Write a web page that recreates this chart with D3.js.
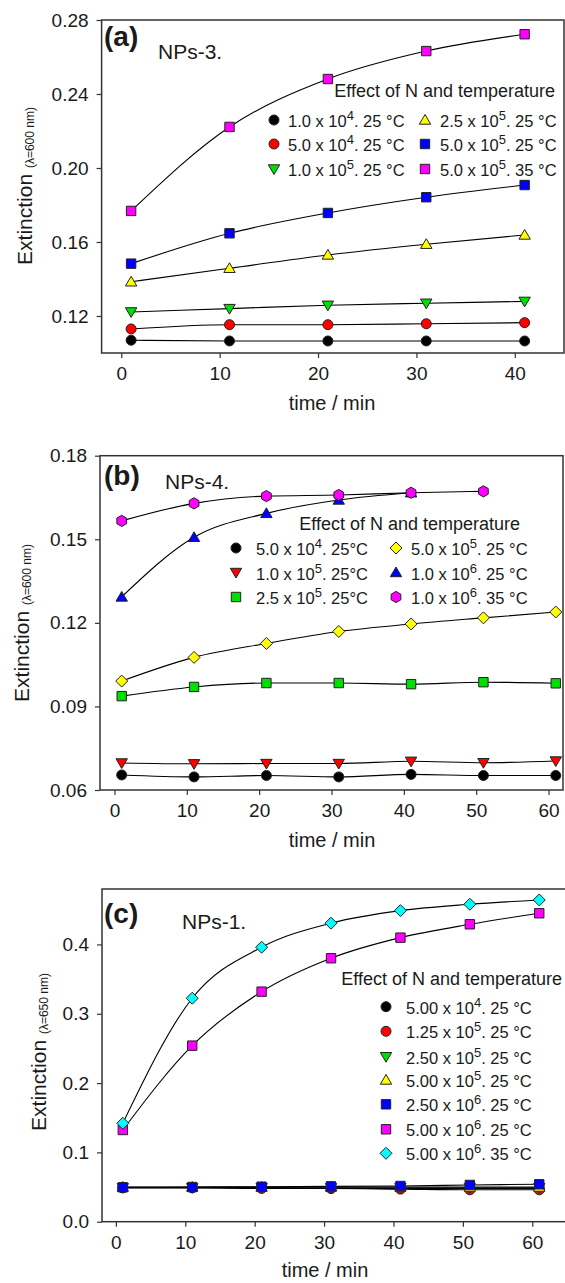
<!DOCTYPE html>
<html><head><meta charset="utf-8">
<script src="https://cdn.jsdelivr.net/npm/d3@7"></script>
<style>body{margin:0;background:#fff}svg{display:block}text{font-family:"Liberation Sans",Arial,sans-serif;fill:#1a1a1a}</style>
</head><body><svg id="c" width="565" height="1283"></svg>
<script>
// ---------- DATA ----------
const timeA = [1, 11, 21, 31, 41];
const aN1e4_25 = [0.1069, 0.1065, 0.1065, 0.1065, 0.1065];
const aN5e4_25 = [0.1130, 0.1153, 0.1153, 0.1158, 0.1164];
const aN1e5_25 = [0.1222, 0.1240, 0.1258, 0.1269, 0.1279];
const aN25e5_25 = [0.1385, 0.1458, 0.1530, 0.1588, 0.1638];
const aN5e5_25 = [0.1483, 0.1647, 0.1757, 0.1842, 0.1908];
const aN5e5_35 = [0.1768, 0.2222, 0.2481, 0.2632, 0.2723];
const xTicksA = [0, 10, 20, 30, 40];
const yTicksA = [0.12, 0.16, 0.20, 0.24, 0.28];

const timeB = [1, 11, 21, 31, 41, 51, 61];
const bN5e4_25 = [0.0654, 0.0647, 0.0652, 0.0647, 0.0656, 0.0652, 0.0652];
const bN1e5_25 = [0.0697, 0.0694, 0.0695, 0.0695, 0.0703, 0.0698, 0.0704];
const bN25e5_25 = [0.0937, 0.0970, 0.0984, 0.0984, 0.0980, 0.0987, 0.0983];
const bN5e5_25 = [0.0991, 0.1076, 0.1126, 0.1169, 0.1196, 0.1218, 0.1239];
const timeB6 = [1, 11, 21, 31, 41];
const bN1e6_25 = [0.1293, 0.1507, 0.1593, 0.1641, 0.1667];
const timeB7 = [1, 11, 21, 31, 41, 51];
const bN1e6_35 = [0.1566, 0.1629, 0.1655, 0.1659, 0.1667, 0.1672];
const xTicksB = [0, 10, 20, 30, 40, 50, 60];
const yTicksB = [0.06, 0.09, 0.12, 0.15, 0.18];

const timeC = [1, 11, 21, 31, 41, 51, 61];
const cN5e4_25 = [0.049, 0.049, 0.049, 0.048, 0.048, 0.048, 0.048];
const cN125e5_25 = [0.049, 0.049, 0.048, 0.048, 0.047, 0.046, 0.046];
const cN25e5_25 = [0.049, 0.049, 0.049, 0.049, 0.049, 0.049, 0.049];
const cN5e5_25 = [0.050, 0.050, 0.050, 0.050, 0.050, 0.050, 0.050];
const cN25e6_25 = [0.0496, 0.0500, 0.0505, 0.0510, 0.0515, 0.0530, 0.0540];
const cN5e6_25 = [0.1323, 0.2540, 0.3319, 0.3801, 0.4098, 0.4291, 0.4450];
const cN5e6_35 = [0.1420, 0.3224, 0.3960, 0.4307, 0.4488, 0.4580, 0.4642];
const xTicksC = [0, 10, 20, 30, 40, 50, 60];
const yTicksC = [0.0, 0.1, 0.2, 0.3, 0.4];

// legend labels: [mantissa, exponent, suffix]
const legendA = [["1.0 x 10","4",". 25 °C"],["5.0 x 10","4",". 25 °C"],["1.0 x 10","5",". 25 °C"],
                 ["2.5 x 10","5",". 25 °C"],["5.0 x 10","5",". 25 °C"],["5.0 x 10","5",". 35 °C"]];
const legendB = [["5.0 x 10","4",". 25°C"],["1.0 x 10","5",". 25°C"],["2.5 x 10","5",". 25°C"],
                 ["5.0 x 10","5",". 25 °C"],["1.0 x 10","6",". 25 °C"],["1.0 x 10","6",". 35 °C"]];
const legendC = [["5.00 x 10","4",". 25 °C"],["1.25 x 10","5",". 25 °C"],["2.50 x 10","5",". 25 °C"],
                 ["5.00 x 10","5",". 25 °C"],["2.50 x 10","6",". 25 °C"],["5.00 x 10","6",". 25 °C"],["5.00 x 10","6",". 35 °C"]];

// ---------- STYLE ----------
const COL = {black:"#000000", red:"#ff0000", green:"#00e000", yellow:"#ffff00", blue:"#0000ff", magenta:"#ff00ff", cyan:"#00ffff"};
const svg = d3.select("#c");
svg.append("rect").attr("width",565).attr("height",1283).attr("fill","#fff");

function markerPath(shape){
  const p = d3.path();
  if(shape==="circle"){ p.arc(0,0,5,0,2*Math.PI); }
  else if(shape==="square"){ p.rect(-4.7,-4.7,9.4,9.4); }
  else if(shape==="up"){ p.moveTo(0,-5.5); p.lineTo(5.7,4.2); p.lineTo(-5.7,4.2); p.closePath(); }
  else if(shape==="down"){ p.moveTo(0,5.5); p.lineTo(5.7,-4.2); p.lineTo(-5.7,-4.2); p.closePath(); }
  else if(shape==="diamond"){ p.moveTo(0,-6); p.lineTo(6,0); p.lineTo(0,6); p.lineTo(-6,0); p.closePath(); }
  else if(shape==="hex"){ for(let i=0;i<6;i++){const a=Math.PI/3*i-Math.PI/2; const x=5.6*Math.cos(a), y=5.6*Math.sin(a); if(i===0)p.moveTo(x,y); else p.lineTo(x,y);} p.closePath(); }
  return p.toString();
}

function panel(cfg){
  const g = svg.append("g");
  const x = d3.scaleLinear().domain(cfg.xDom).range([cfg.L, cfg.R]);
  const y = d3.scaleLinear().domain(cfg.yDom).range([cfg.B, cfg.T]);
  const xa = g.append("g").attr("transform",`translate(0,${cfg.B})`)
    .call(d3.axisBottom(x).tickValues(cfg.xTicks).tickSize(5).tickPadding(9).tickFormat(d3.format("d")));
  const ya = g.append("g").attr("transform",`translate(${cfg.L},0)`)
    .call(d3.axisLeft(y).tickValues(cfg.yTicks).tickSize(5).tickPadding(8).tickFormat(d3.format(cfg.yFmt)));
  [xa,ya].forEach(a=>{
    a.select(".domain").remove();
    a.selectAll("line").attr("stroke","#333").attr("stroke-width",1.2);
    a.selectAll("text").attr("font-size",19).attr("fill","#1a1a1a").attr("font-family",'"Liberation Sans",Arial,sans-serif');
  });
  g.append("rect").attr("x",cfg.L).attr("y",cfg.T).attr("width",cfg.R-cfg.L).attr("height",cfg.B-cfg.T)
    .attr("fill","none").attr("stroke","#333").attr("stroke-width",1.5);
  const line = d3.line().curve(d3.curveMonotoneX).x(d=>x(d[0])).y(d=>y(d[1]));
  cfg.series.forEach(s=>{
    const pts = s.t.map((t,i)=>[t,s.v[i]]);
    g.append("path").attr("d",line(pts)).attr("fill","none").attr("stroke","#000").attr("stroke-width",1.1);
  });
  cfg.series.forEach(s=>{
    const pts = s.t.map((t,i)=>[t,s.v[i]]);
    g.selectAll(null).data(pts).enter().append("path")
      .attr("d",markerPath(s.shape)).attr("transform",d=>`translate(${x(d[0])},${y(d[1])})`)
      .attr("fill",COL[s.color]).attr("stroke","#222").attr("stroke-width",1);
  });
  g.append("text").attr("x",cfg.xtX).attr("y",cfg.xtY).attr("text-anchor","middle").attr("font-size",20).text("time / min");
  const yt = g.append("text").attr("transform",`translate(${cfg.ytX},${cfg.ytY}) rotate(-90)`).attr("text-anchor","middle");
  yt.append("tspan").attr("font-size",21).text("Extinction ");
  yt.append("tspan").attr("font-size",12).attr("dy",2).text(cfg.lambda);
  g.append("text").attr("x",cfg.lblX).attr("y",cfg.lblY).attr("font-size",28).attr("font-weight","bold").text(cfg.lbl);
  g.append("text").attr("x",cfg.npX).attr("y",cfg.npY).attr("font-size",21).text(cfg.np);
  g.append("text").attr("x",cfg.legTitleX).attr("y",cfg.legTitleY).attr("text-anchor","end").attr("font-size",18).text("Effect of N and temperature");
  cfg.series.forEach((s,i)=>{
    const pos = cfg.legPos(i);
    g.append("path").attr("d",markerPath(s.shape)).attr("transform",`translate(${pos.mx},${pos.my})`)
      .attr("fill",COL[s.color]).attr("stroke","#222").attr("stroke-width",1);
    const lab = cfg.legend[i];
    const t = g.append("text").attr("x",pos.tx).attr("y",pos.my+7).attr("font-size",16.5);
    t.append("tspan").text(lab[0]);
    t.append("tspan").attr("font-size",13).attr("dy",-7).text(lab[1]);
    t.append("tspan").attr("dy",7).text(lab[2]);
  });
}

panel({
  L:101.6, R:564, T:20, B:353, xDom:[-2,45], yDom:[0.10,0.28], xTicks:xTicksA, yTicks:yTicksA, yFmt:".2f",
  series:[
    {t:timeA,v:aN1e4_25,shape:"circle",color:"black"},
    {t:timeA,v:aN5e4_25,shape:"circle",color:"red"},
    {t:timeA,v:aN1e5_25,shape:"down",color:"green"},
    {t:timeA,v:aN25e5_25,shape:"up",color:"yellow"},
    {t:timeA,v:aN5e5_25,shape:"square",color:"blue"},
    {t:timeA,v:aN5e5_35,shape:"square",color:"magenta"}],
  legend:legendA, legTitleX:555, legTitleY:97,
  legPos:i=>({mx: i<3?274:425, tx: i<3?288:440, my:[120,144,169][i%3]}),
  xtX:332, xtY:410, ytX:32, ytY:186, lambda:"(λ=600 nm)",
  lbl:"(a)", lblX:104, lblY:46, np:"NPs-3.", npX:158, npY:59
});
panel({
  L:100, R:563, T:455.7, B:790, xDom:[-2,62], yDom:[0.06,0.18], xTicks:xTicksB, yTicks:yTicksB, yFmt:".2f",
  series:[
    {t:timeB,v:bN5e4_25,shape:"circle",color:"black"},
    {t:timeB,v:bN1e5_25,shape:"down",color:"red"},
    {t:timeB,v:bN25e5_25,shape:"square",color:"green"},
    {t:timeB,v:bN5e5_25,shape:"diamond",color:"yellow"},
    {t:timeB6,v:bN1e6_25,shape:"up",color:"blue"},
    {t:timeB7,v:bN1e6_35,shape:"hex",color:"magenta"}],
  legend:legendB, legTitleX:520, legTitleY:530,
  legPos:i=>({mx: i<3?236:396, tx: i<3?256:411, my:[548,572.5,597][i%3]}),
  xtX:332, xtY:847, ytX:29, ytY:623, lambda:"(λ=600 nm)",
  lbl:"(b)", lblX:104, lblY:485, np:"NPs-4.", npX:165, npY:489
});
panel({
  L:102, R:567, T:889, B:1221.7, xDom:[-2,65], yDom:[0,0.48], xTicks:xTicksC, yTicks:yTicksC, yFmt:".1f",
  series:[
    {t:timeC,v:cN5e4_25,shape:"circle",color:"black"},
    {t:timeC,v:cN125e5_25,shape:"circle",color:"red"},
    {t:timeC,v:cN25e5_25,shape:"down",color:"green"},
    {t:timeC,v:cN5e5_25,shape:"up",color:"yellow"},
    {t:timeC,v:cN25e6_25,shape:"square",color:"blue"},
    {t:timeC,v:cN5e6_25,shape:"square",color:"magenta"},
    {t:timeC,v:cN5e6_35,shape:"diamond",color:"cyan"}],
  legend:legendC, legTitleX:562, legTitleY:985,
  legPos:i=>({mx:386, tx:406, my:[1006.7,1031.3,1056.7,1080,1104.3,1129.3,1153.3][i]}),
  xtX:325, xtY:1277, ytX:46, ytY:1052, lambda:"(λ=650 nm)",
  lbl:"(c)", lblX:104, lblY:923, np:"NPs-1.", npX:182, npY:929
});
</script></body></html>
